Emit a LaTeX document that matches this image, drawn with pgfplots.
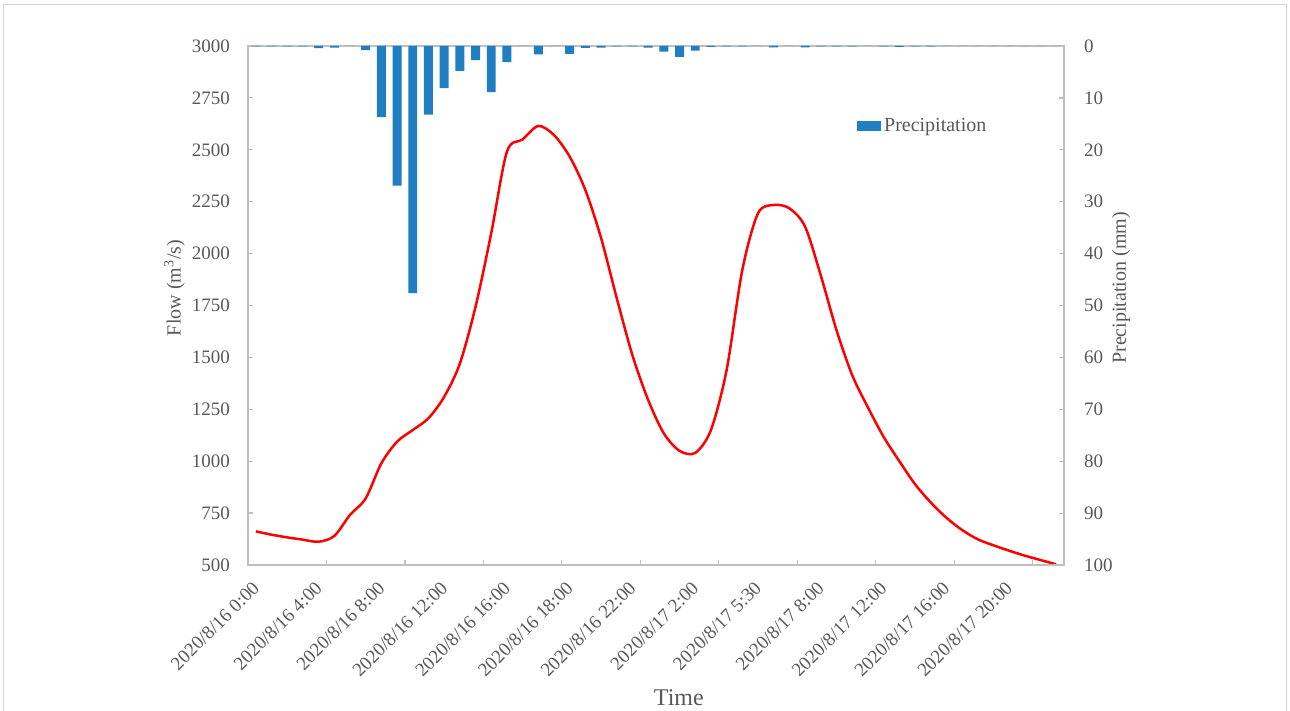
\documentclass[border=0pt]{standalone}
\usepackage{pgfplots}
\pgfplotsset{compat=1.18}
\usepackage{fontspec}
\setmainfont{Liberation Serif}
\definecolor{txtgray}{HTML}{595959}
\definecolor{axgray}{HTML}{BFBFBF}
\definecolor{barblue}{HTML}{1F7FC2}
\definecolor{framegray}{HTML}{D4D4D4}
\definecolor{flowred}{HTML}{FF0000}

\begin{document}
\begin{tikzpicture}
\pgfplotsset{
  base/.style={
    scale only axis, width=408pt, height=259.5pt,
    at={(0,0)}, anchor=south west,
    xmin=-0.5, xmax=51.5,
    axis line style={draw=axgray, line width=0.6pt},
    every tick/.style={draw=axgray, line width=0.6pt},
    major tick length=2.5pt, minor tick length=2.5pt,
    tick align=inside,
    ticklabel style={font=\fontsize{9.5}{11}\selectfont, text=txtgray},
    label style={font=\fontsize{10}{12}\selectfont, text=txtgray},
    /pgf/number format/assume math mode=true,
    /pgf/number format/1000 sep={},
  }
}
\begin{axis}[base,
  ymin=500, ymax=3000, ytick={500,750,...,3000},
  ytick pos=left,
  yticklabel style={xshift=-5.5pt},
  xtick={0,4,...,48},
  xticklabels={2020/8/16 0:00, 2020/8/16 4:00, 2020/8/16 8:00, 2020/8/16 12:00, 2020/8/16 16:00, 2020/8/16 18:00, 2020/8/16 22:00, 2020/8/17 2:00, 2020/8/17 5:30, 2020/8/17 8:00, 2020/8/17 12:00, 2020/8/17 16:00, 2020/8/17 20:00},
  xtick pos=bottom,
  major x tick style={draw=none},
  minor xtick={-0.5,4.5,...,49.5},
  xticklabel style={xshift=2.5pt, yshift=-7.5pt, rotate=45, anchor=east},
  xlabel={Time},
  xlabel style={font=\fontsize{12}{14}\selectfont, at={(axis description cs:0.528,0)}, anchor=center, yshift=-66.5pt},
  ylabel={Flow (m\textsuperscript{3}/s)},
  ylabel style={at={(axis description cs:0,0.534)}, anchor=south, yshift=28pt},
]
\addplot[flowred, line width=1.25pt, smooth, no markers] coordinates {
(0,662) (1,646) (2,633) (3,622) (4,612) (5,640) (6,741) (7,821) (8,990) (9,1094)
(10,1150) (11,1207) (12,1310) (13,1470) (14,1744) (15,2098) (16,2491) (17,2550) (18,2615) (19,2571)
(20,2467) (21,2306) (22,2075) (23,1785) (24,1510) (25,1295) (26,1134) (27,1050) (28,1040) (29,1150)
(30,1439) (31,1921) (32,2194) (33,2234) (34,2218) (35,2130) (36,1895) (37,1632) (38,1415) (39,1260)
(40,1118) (41,1001) (42,890) (43,802) (44,728) (45,669) (46,624) (47,595) (48,569) (49,545)
(50,524) (51,503)
};
\end{axis}
\begin{axis}[base,
  ymin=0, ymax=100, y dir=reverse, ytick={0,10,...,100},
  ytick pos=right, yticklabel pos=right,
  yticklabel style={xshift=6.5pt},
  xtick=\empty,
  ylabel={Precipitation (mm)},
  ylabel style={at={(axis description cs:1,0.534)}, anchor=north, yshift=-20.5pt},
  legend style={at={(axis description cs:0.746,0.846)}, anchor=west, draw=none, fill=none, inner sep=0pt, font=\fontsize{10}{12}\selectfont, text=txtgray, nodes={inner sep=1.5pt}},
]
\addplot[ybar, bar width=0.57, fill=barblue, draw=none,
  legend image code/.code={\fill[barblue] (0pt,-2.5pt) rectangle (12pt,2.5pt);}] coordinates {
(0,0.05) (1,0.05) (2,0.05) (3,0.05) (4,0.4) (5,0.3) (6,0) (7,0.8) (8,13.7) (9,26.9)
(10,47.6) (11,13.2) (12,8.1) (13,4.8) (14,2.7) (15,8.9) (16,3.1) (17,0) (18,1.6) (19,0)
(20,1.5) (21,0.35) (22,0.3) (23,0.05) (24,0.05) (25,0.3) (26,1.1) (27,2.1) (28,0.9) (29,0.15)
(30,0.05) (31,0.05) (32,0) (33,0.25) (34,0) (35,0.25) (36,0.05) (37,0.05) (38,0.05) (39,0)
(40,0.05) (41,0.15) (42,0.05) (43,0.05) (44,0) (45,0) (46,0) (47,0) (48,0) (49,0)
(50,0) (51,0)
};
\addlegendentry{Precipitation}
\end{axis}
\draw[framegray, line width=0.5pt] (-122pt,-80pt) -- (-122pt,280pt) -- (519pt,280pt) -- (519pt,-80pt);
\pgfresetboundingbox
\useasboundingbox (-124pt,-73pt) rectangle (521pt,282.5pt);
\end{tikzpicture}
\end{document}
